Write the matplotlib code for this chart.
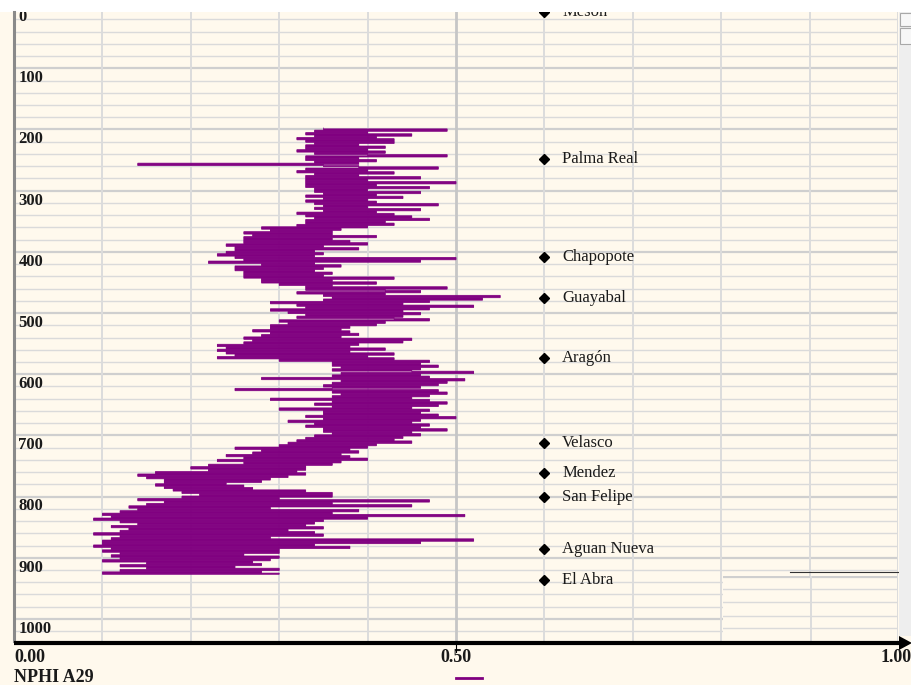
import numpy as np
import matplotlib
matplotlib.use("Agg")
import matplotlib.pyplot as plt
from matplotlib.lines import Line2D
from matplotlib.patches import Rectangle, Polygon

# ==== data (NPHI read every 2 ft from 198) ====
depth_top = 198
depth_step = 2
nphi = [
    0.35, 0.49, 0.34, 0.40, 0.33, 0.45, 0.34, 0.41, 0.32, 0.43,
    0.33, 0.43, 0.34, 0.39, 0.33, 0.42, 0.33, 0.40, 0.32, 0.42,
    0.34, 0.40, 0.49, 0.33, 0.39, 0.33, 0.41, 0.34, 0.39, 0.14,
    0.35, 0.39, 0.48, 0.33, 0.40, 0.32, 0.43, 0.34, 0.39, 0.33,
    0.46, 0.33, 0.40, 0.33, 0.50, 0.33, 0.41, 0.33, 0.47, 0.34,
    0.40, 0.34, 0.46, 0.35, 0.41, 0.33, 0.44, 0.35, 0.40, 0.33,
    0.41, 0.34, 0.48, 0.35, 0.40, 0.34, 0.46, 0.35, 0.41, 0.32,
    0.43, 0.33, 0.45, 0.34, 0.47, 0.33, 0.42, 0.33, 0.43, 0.32,
    0.40, 0.28, 0.37, 0.29, 0.36, 0.26, 0.36, 0.27, 0.41, 0.26,
    0.36, 0.26, 0.38, 0.26, 0.40, 0.24, 0.35, 0.25, 0.39, 0.25,
    0.34, 0.24, 0.35, 0.23, 0.34, 0.25, 0.50, 0.26, 0.46, 0.22,
    0.34, 0.28, 0.37, 0.25, 0.35, 0.25, 0.34, 0.26, 0.36, 0.26,
    0.35, 0.26, 0.43, 0.28, 0.36, 0.28, 0.41, 0.30, 0.36, 0.33,
    0.49, 0.33, 0.42, 0.46, 0.32, 0.42, 0.35, 0.55, 0.36, 0.53,
    0.35, 0.47, 0.29, 0.44, 0.32, 0.52, 0.33, 0.47, 0.29, 0.44,
    0.31, 0.46, 0.33, 0.44, 0.32, 0.43, 0.47, 0.30, 0.42, 0.31,
    0.41, 0.29, 0.38, 0.29, 0.37, 0.27, 0.38, 0.29, 0.39, 0.28,
    0.37, 0.26, 0.45, 0.27, 0.44, 0.26, 0.39, 0.23, 0.38, 0.24,
    0.42, 0.23, 0.38, 0.24, 0.43, 0.25, 0.40, 0.23, 0.43, 0.30,
    0.47, 0.36, 0.46, 0.36, 0.48, 0.37, 0.46, 0.36, 0.45, 0.52,
    0.37, 0.46, 0.36, 0.47, 0.28, 0.51, 0.37, 0.49, 0.36, 0.48,
    0.35, 0.46, 0.36, 0.25, 0.48, 0.36, 0.49, 0.37, 0.47, 0.36,
    0.45, 0.29, 0.47, 0.36, 0.49, 0.34, 0.48, 0.36, 0.45, 0.30,
    0.47, 0.35, 0.46, 0.35, 0.48, 0.33, 0.50, 0.35, 0.46, 0.31,
    0.45, 0.34, 0.47, 0.33, 0.46, 0.35, 0.49, 0.35, 0.45, 0.36,
    0.46, 0.34, 0.44, 0.33, 0.43, 0.32, 0.45, 0.31, 0.41, 0.30,
    0.40, 0.25, 0.38, 0.28, 0.39, 0.27, 0.37, 0.24, 0.38, 0.26,
    0.40, 0.23, 0.37, 0.26, 0.36, 0.22, 0.33, 0.20, 0.33, 0.22,
    0.32, 0.16, 0.33, 0.14, 0.31, 0.15, 0.29, 0.17, 0.28, 0.17,
    0.24, 0.16, 0.26, 0.17, 0.27, 0.18, 0.33, 0.19, 0.36, 0.21,
    0.36, 0.19, 0.30, 0.14, 0.47, 0.17, 0.36, 0.15, 0.45, 0.13,
    0.29, 0.14, 0.39, 0.12, 0.36, 0.10, 0.51, 0.11, 0.40, 0.09,
    0.35, 0.12, 0.34, 0.14, 0.33, 0.11, 0.35, 0.13, 0.31, 0.12,
    0.34, 0.09, 0.35, 0.12, 0.29, 0.11, 0.52, 0.10, 0.46, 0.10,
    0.34, 0.09, 0.38, 0.11, 0.30, 0.10, 0.30, 0.12, 0.26, 0.11,
    0.30, 0.12, 0.29, 0.10, 0.27, 0.15, 0.28, 0.12, 0.25, 0.15,
    0.30, 0.12, 0.28, 0.10, 0.30,
]
depth = depth_top + depth_step * np.arange(len(nphi))

tops = ["Meson", "Palma Real", "Chapopote", "Guayabal", "Aragón", "Velasco",
        "Mendez", "San Felipe", "Aguan Nueva", "El Abra"]
top_depths = [8, 249, 409, 475, 573, 713, 762, 801, 886, 937]
top_x = 0.6

depth_labels = list(range(0, 1001, 100))
x_labels = ["0.00", "0.50", "1.00"]
curve_name = "NPHI A29"

# ==== style ====
W, H = 912, 685
cream = "#fff9ed"
purple = "#800080"
serif = ["Liberation Serif", "DejaVu Serif"]

def fx(px):
    return px / W

def fy(py):
    return 1 - py / H

fig = plt.figure(figsize=(W / 100, H / 100), dpi=100)
fig.patch.set_facecolor(cream)

# top white strip
fig.add_artist(Rectangle((0, fy(12)), 1, 12 / H, transform=fig.transFigure,
                         facecolor="white", edgecolor="none", zorder=0))

ax = fig.add_axes([fx(14), fy(641), fx(884), 629 / H])
ax.set_facecolor(cream)
ax.set_xlim(0, 1)
ax.set_ylim(1036, 8)
ax.set_xticks([])
ax.set_yticks([])
for s in ["top", "right", "bottom"]:
    ax.spines[s].set_visible(False)
ax.spines["left"].set_color("#8a8a8a")
ax.spines["left"].set_linewidth(2.2)

# grid
for d in range(0, 1041, 20):
    if d % 100 == 0:
        ax.axhline(d, color="#cfcfcf", lw=1.6, zorder=1)
    else:
        ax.axhline(d, color="#dadada", lw=1.0, zorder=1)
for i in range(1, 11):
    x = i / 10
    if i == 5:
        ax.axvline(x, color="#c6c6c6", lw=2.0, zorder=1)
    else:
        ax.axvline(x, color="#dcdcdc", lw=1.4, zorder=1)

for d in depth_labels:
    ax.text(0.005, d + 3, str(d), va="top", ha="left", fontsize=12,
            fontweight="bold", family=serif, color="#1a1a1a", zorder=4,
            clip_on=True)

# curve: each sample drawn as a horizontal bar from the previous reading
prev = np.r_[nphi[0], nphi[:-1]]
cur = np.asarray(nphi)
ax.barh(depth, np.abs(cur - prev), left=np.minimum(cur, prev),
        height=depth_step, color=purple, edgecolor=purple, linewidth=0.5,
        snap=False, zorder=3)

# formation tops
ax.plot([top_x] * len(top_depths), top_depths, "D", color="black", ms=5,
        zorder=4)
for name, d in zip(tops, top_depths):
    ax.text(top_x + 0.02, d, name, va="center", ha="left", fontsize=12,
            family=serif, color="#1a1a1a", zorder=4, clip_on=True)

# lower-right overlapping panel
ax2 = fig.add_axes([fx(723), fy(641), fx(898 - 723), (641 - 576) / H])
ax2.set_facecolor(cream)
ax2.set_xlim(0, 1)
ax2.set_ylim(65, 0)
ax2.set_xticks([])
ax2.set_yticks([])
for s in ax2.spines.values():
    s.set_visible(False)
ax2.axhline(0.5, color="#cfcfcf", lw=1.6)
for yy in [13, 26, 40, 52]:
    ax2.axhline(yy, color="#dadada", lw=1.0)
ax2.axvline((811 - 723) / (898 - 723), color="#dcdcdc", lw=1.4)
ax2.axvline(1.0, color="#dcdcdc", lw=1.4)
fig.add_artist(Line2D([fx(790), fx(912)], [fy(572), fy(572)],
                      transform=fig.transFigure, color="#333333", lw=0.8))

# scrollbar strip
fig.add_artist(Rectangle((fx(899), fy(636)), fx(13), 624 / H,
                         transform=fig.transFigure, facecolor="#eeeeee",
                         edgecolor="none", zorder=2))
fig.add_artist(Rectangle((fx(900), fy(26)), fx(12), 13 / H,
                         transform=fig.transFigure, facecolor="#f7f7f7",
                         edgecolor="#a8a8a8", lw=0.8, zorder=3))
fig.add_artist(Rectangle((fx(900), fy(44)), fx(12), 16 / H,
                         transform=fig.transFigure, facecolor="#f7f7f7",
                         edgecolor="#a8a8a8", lw=0.8, zorder=3))

# bottom axis with arrow
fig.add_artist(Line2D([fx(14), fx(902)], [fy(643), fy(643)],
                      transform=fig.transFigure, color="black", lw=3.0,
                      solid_capstyle="butt", zorder=5))
fig.add_artist(Polygon([[fx(899), fy(636)], [fx(912), fy(643)],
                        [fx(899), fy(650)]], closed=True,
                       transform=fig.transFigure, facecolor="black",
                       edgecolor="none", zorder=5))
fig.add_artist(Line2D([fx(456), fx(456)], [fy(645), fy(652)],
                      transform=fig.transFigure, color="black", lw=0.8,
                      zorder=5))

lab = dict(fontsize=13, fontweight="bold", family=serif, color="#1a1a1a",
           va="center")
fig.text(fx(14), fy(658), x_labels[0], ha="left", **lab)
fig.text(fx(456), fy(658), x_labels[1], ha="center", **lab)
fig.text(fx(912), fy(658), x_labels[2], ha="right", **lab)
fig.text(fx(14), fy(678), curve_name, ha="left", **lab)
fig.add_artist(Line2D([fx(456), fx(482)], [fy(678), fy(678)],
                      transform=fig.transFigure, color=purple, lw=2.0))

fig.savefig("out.png", dpi=100, facecolor=fig.get_facecolor())
